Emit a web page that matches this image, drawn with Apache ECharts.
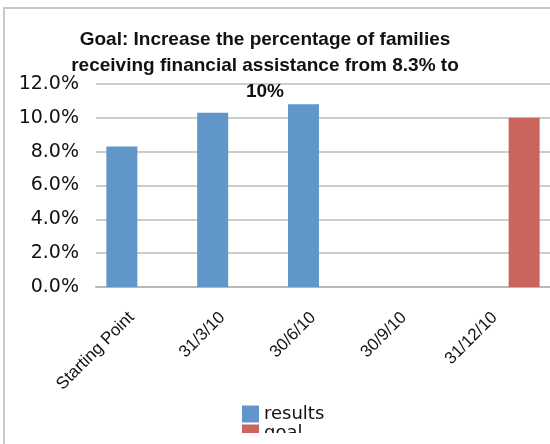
<!DOCTYPE html>
<html>
<head>
<meta charset="utf-8">
<script src="https://cdn.jsdelivr.net/npm/echarts@6/dist/echarts.min.js"></script>
<style>
html,body{margin:0;padding:0;background:#fff;}
#chart{width:550px;height:444px;}
</style>
</head>
<body>
<div id="chart"></div>
<script>
var categories = ['Starting Point', '31/3/10', '30/6/10', '30/9/10', '31/12/10'];
var results = [8.3, 10.3, 10.8, null, null];
var goal = [null, null, null, null, 10.0];
var yTicks = [0, 2, 4, 6, 8, 10, 12];
var titleLines = ['Goal: Increase the percentage of families', 'receiving financial assistance from 8.3% to', '10%'];
var seriesNames = ['results', 'goal'];

var chart = echarts.init(document.getElementById('chart'), null, {renderer: 'canvas'});
var legendBase = {
  orient: 'vertical', left: 242, itemWidth: 17, itemHeight: 17, padding: 0,
  icon: 'rect',
  textStyle: {fontFamily: 'DejaVu Sans', fontSize: 18, color: '#111'}
};
chart.setOption({
  animation: false,
  backgroundColor: '#ffffff',
  graphic: [{
    type: 'rect', z: -1, silent: true,
    shape: {x: 4, y: 8, width: 600, height: 500},
    style: {fill: 'none', stroke: '#c8c8c8', lineWidth: 2}
  }, {
    // legend box clips its content at the bottom, as in the original
    type: 'rect', z: 100, silent: true,
    shape: {x: 236, y: 433, width: 120, height: 12},
    style: {fill: '#ffffff'}
  }],
  title: {
    text: titleLines.join('\n'),
    left: 260, textAlign: 'center', top: 22,
    textStyle: {
      fontFamily: "'Liberation Sans', Arial, sans-serif",
      fontWeight: 'bold', fontSize: 19, lineHeight: 26, color: '#111'
    }
  },
  legend: [
    Object.assign({}, legendBase, {top: 405, data: [seriesNames[0]]}),
    Object.assign({}, legendBase, {top: 424, data: [seriesNames[1]]})
  ],
  grid: {left: 96, right: -4, top: 84, bottom: 444 - 287, containLabel: false},
  xAxis: {
    type: 'category', data: categories,
    axisLine: {lineStyle: {color: '#b8b8b8', width: 2}},
    axisTick: {show: false},
    axisLabel: {rotate: 45, interval: 0, margin: 18, padding: [0, 14, 0, 0],
      fontFamily: "'Liberation Sans', Arial, sans-serif", fontSize: 17, color: '#111'}
  },
  yAxis: {
    type: 'value', min: yTicks[0], max: yTicks[yTicks.length - 1], interval: 2,
    axisLine: {show: false}, axisTick: {show: false},
    splitLine: {lineStyle: {color: '#bdbdbd', width: 1.5}},
    axisLabel: {margin: 17, fontFamily: 'DejaVu Sans', fontSize: 19, color: '#111',
      formatter: function (v) { return v.toFixed(1) + '%'; }}
  },
  series: [
    {name: seriesNames[0], type: 'bar', data: results, barWidth: 31, barGap: '26%', itemStyle: {color: '#6196cb'}},
    {name: seriesNames[1], type: 'bar', data: goal, barWidth: 31, itemStyle: {color: '#cc645e'}}
  ]
});
</script>
</body>
</html>
